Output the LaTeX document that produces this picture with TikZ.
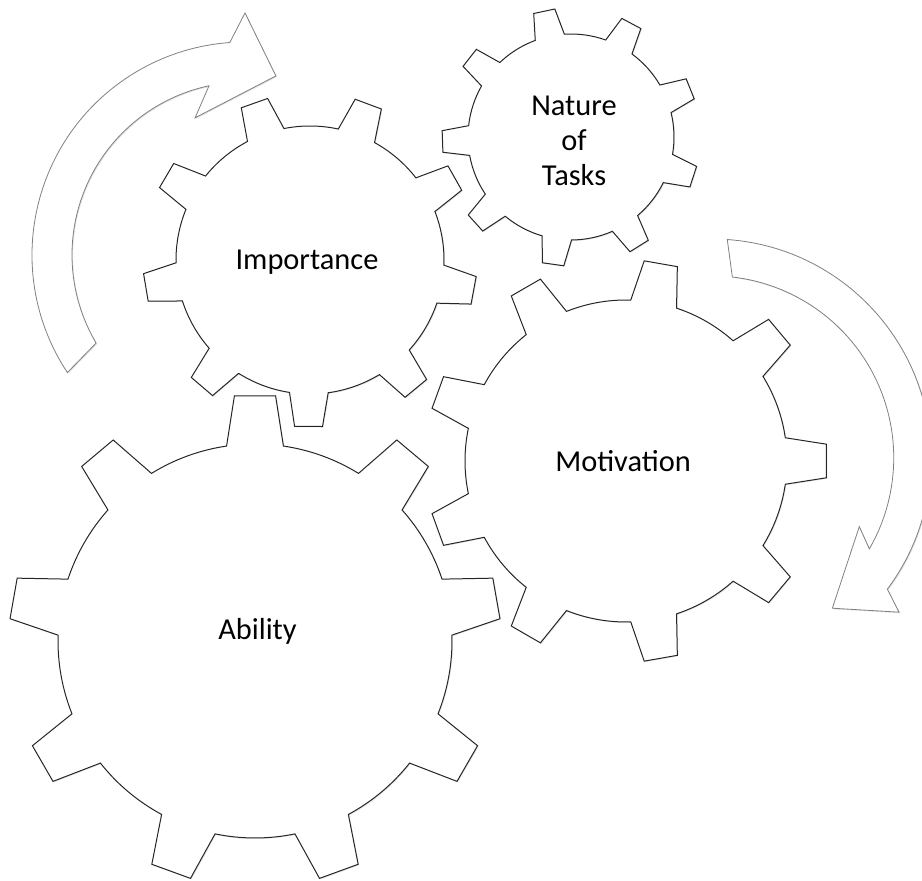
\documentclass[tikz,border=0pt]{standalone}
\usepackage{fontspec}
\setmainfont{Carlito}
\usetikzlibrary{shadows}

% gear with nine teeth: centre x, centre y, outer radius, inner radius, angle of one tooth
\newcommand{\drawgear}[5]{%
  \begin{scope}[shift={(#1,#2)}]
    \draw[gear] ({#5-8.3}:#4)
      \foreach \k in {0,...,8} {
        -- ({#5+40*\k-4.8}:#3) -- ({#5+40*\k+4.8}:#3) -- ({#5+40*\k+8.3}:#4)
        arc[start angle={#5+40*\k+8.3}, end angle={#5+40*\k+31.7}, radius=#4]
      } -- cycle;
  \end{scope}}

\begin{document}
\begin{tikzpicture}
        [
            x = 1pt, y = 1pt,
            gear/.style     = {draw=black!85, line width=1pt, fill=white,
                               drop shadow={shadow xshift=1pt, shadow yshift=-1pt, opacity=.2}},
            turn/.style     = {draw=black!50, line width=.8pt, fill=white,
                               drop shadow={shadow xshift=1pt, shadow yshift=-1pt, opacity=.25}},
            gearname/.style = {font=\fontsize{30.4}{35}\selectfont, align=center},
        ]
        \useasboundingbox (0,0) rectangle (922,881);
        \clip (0,0) rectangle (922,881);

        % the four gears
        \drawgear{255}{240}{246}{197}{10}
        \drawgear{310}{621}{167}{134}{29.5}
        \drawgear{571}{744}{129}{103}{22}
        \drawgear{626}{420}{201}{161}{0}

        % turning arrows
        \begin{scope}[shift={(245,626)}]
            \draw[turn] (213.5:213) arc[start angle=213.5, end angle=94.1, radius=213]
                -- (90:242) -- (80.2:181.7) -- (110:146) -- (102:173)
                arc[start angle=102, end angle=210.6, radius=173] -- cycle;
        \end{scope}
        \begin{scope}[shift={(712,423)}]
            \draw[turn] (86:219) arc[start angle=86, end angle=-36.8, radius=219]
                -- (-39.5:242.4) -- (-51.3:192.5) -- (-25:162.5) -- (-30:181.7)
                arc[start angle=-30, end angle=83.5, radius=182] -- cycle;
        \end{scope}

        \node [gearname, anchor=base] (ability)    at (257.5,241) {Ability};
        \node [gearname, anchor=base] (importance) at (307,611)   {Importance};
        \node [gearname, anchor=base] (motivation) at (623,409)   {Motivation};
        \node [gearname]              (nature)     at (574,740)   {Nature\\of\\Tasks};
\end{tikzpicture}
\end{document}
